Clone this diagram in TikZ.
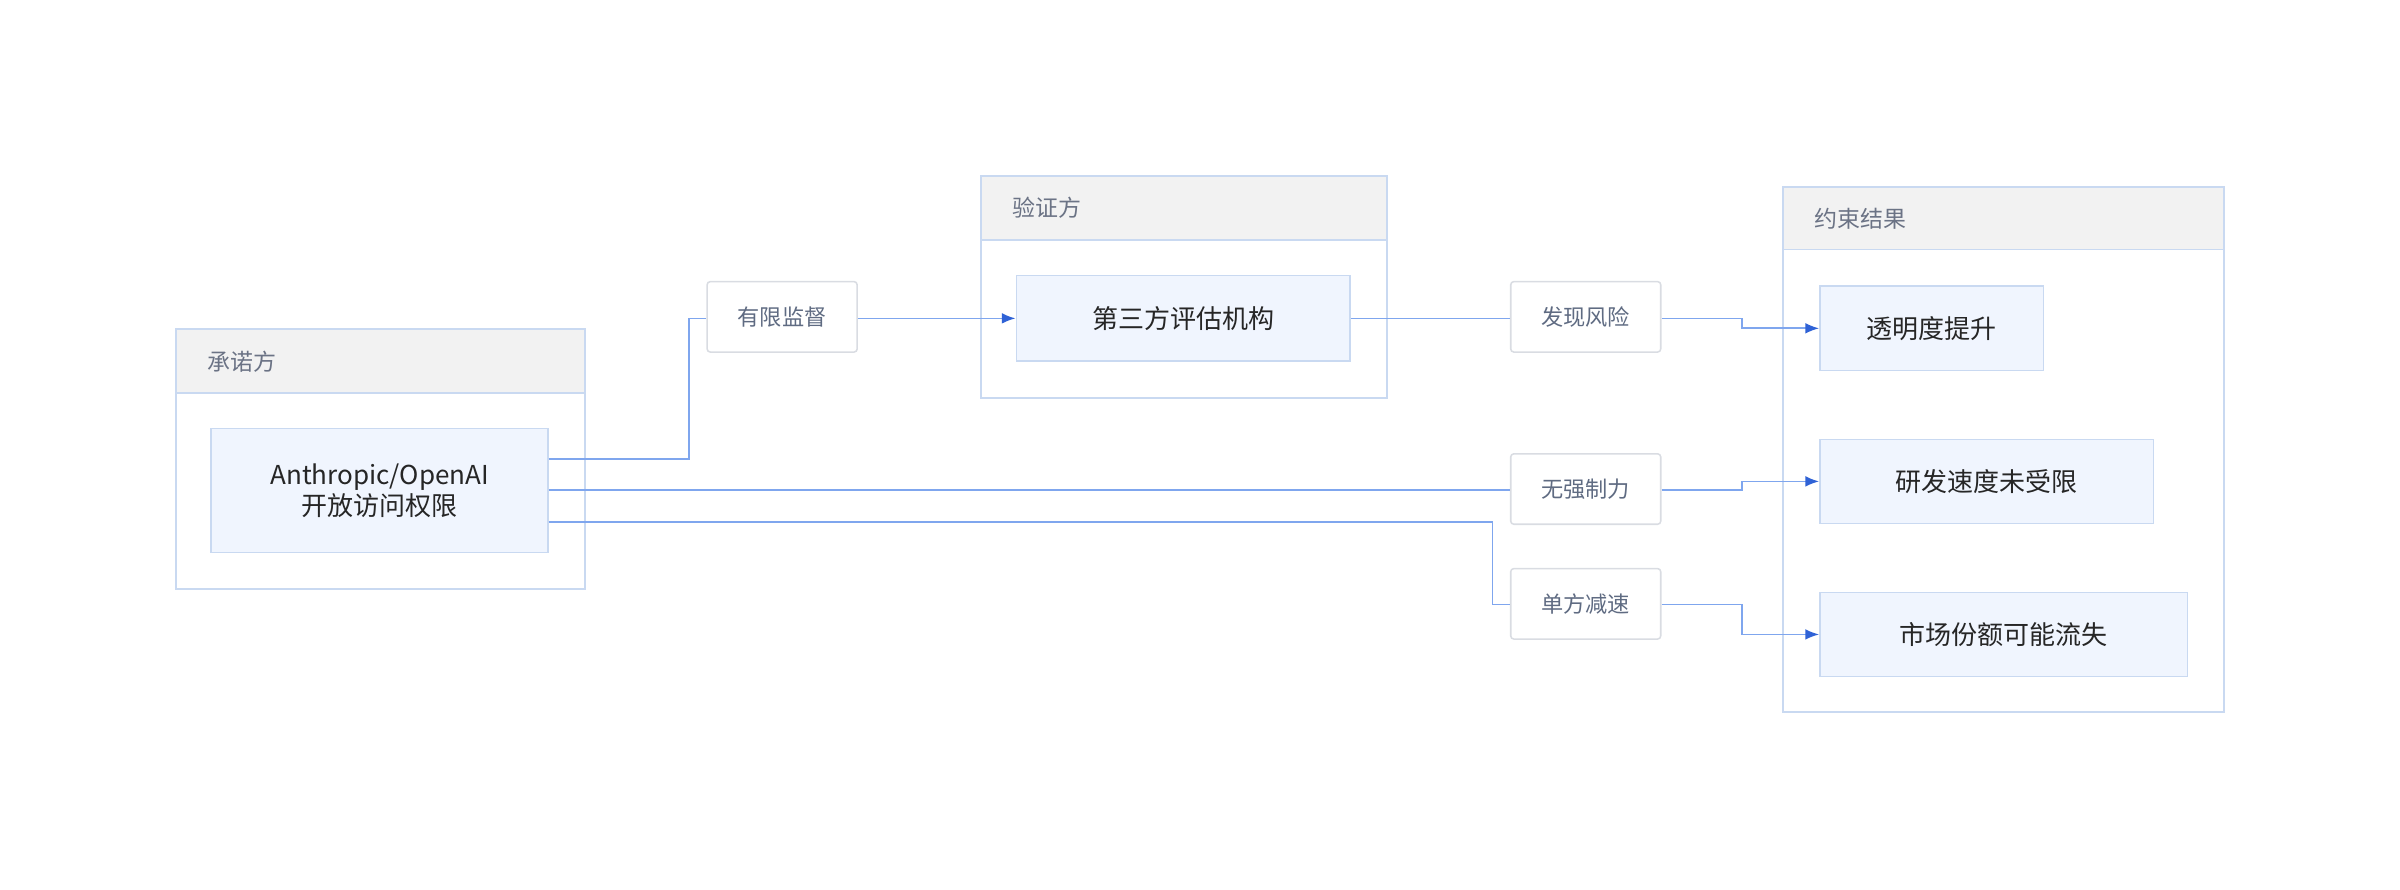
\documentclass[tikz,border=0pt]{standalone}
\usepackage{fontspec}
\setmainfont{Noto Sans CJK SC}
\usetikzlibrary{arrows.meta}
\definecolor{edge}{HTML}{7FA6EE}
\definecolor{tip}{HTML}{2F62D6}
\definecolor{bord}{HTML}{C9D9F1}
\definecolor{nfill}{HTML}{F0F5FE}
\definecolor{hfill}{HTML}{F2F2F2}
\definecolor{ttext}{HTML}{6B7385}
\definecolor{ltext}{HTML}{5F6B82}
\definecolor{lbord}{HTML}{D9DCE2}
\begin{document}
\begin{tikzpicture}[x=1pt,y=-1pt,
  grp/.style={draw=bord,line width=1.2pt,fill=white},
  hdr/.style={draw=bord,line width=1.2pt,fill=hfill},
  ttl/.style={anchor=west,text=ttext,font=\fontsize{15}{18}\selectfont},
  nd/.style={draw=bord,line width=1pt,fill=nfill,inner sep=0pt,font=\fontsize{17}{22}\selectfont,text=black!85,align=center},
  lb/.style={draw=lbord,line width=1pt,fill=white,rounded corners=2pt,inner sep=0pt,minimum width=98pt,minimum height=46pt,text=ltext,font=\fontsize{14.5}{17}\selectfont},
  ed/.style={draw=edge,line width=1.1pt},
  ar/.style={ed,-{Latex[length=9pt,width=7pt,color=tip]}}]
\useasboundingbox (0,0) rectangle (1568,581);
% groups
\draw[grp] (115,215) rectangle (382,385);
\draw[hdr] (115,215) rectangle (382,257);
\node[ttl] (t1) at (132,236) {承诺方};
\draw[grp] (641,115) rectangle (906,260);
\draw[hdr] (641,115) rectangle (906,157);
\node[ttl] (t2) at (658,136) {验证方};
\draw[grp] (1165,122) rectangle (1453,465);
\draw[hdr] (1165,122) rectangle (1453,163);
\node[ttl] (t3) at (1182,143) {约束结果};
% nodes
\node[nd,minimum width=220pt,minimum height=81pt] (A) at (248,320.5) {Anthropic/OpenAI\\[-2pt]开放访问权限};
\node[nd,minimum width=218pt,minimum height=56pt] (V) at (773,208) {第三方评估机构};
\node[nd,minimum width=146pt,minimum height=55pt] (R1) at (1262,214.5) {透明度提升};
\node[nd,minimum width=218pt,minimum height=55pt] (R2) at (1298,314.5) {研发速度未受限};
\node[nd,minimum width=240pt,minimum height=55pt] (R3) at (1309,414.5) {市场份额可能流失};
% labels
\node[lb] (L1) at (511,207) {有限监督};
\node[lb] (L2) at (1036,207) {发现风险};
\node[lb] (L3) at (1036,319.5) {无强制力};
\node[lb] (L4) at (1036,394.5) {单方减速};
% edges
\draw[ed] (A.east|-0,300) -- (450,300) -- (450,208) -- (L1.west|-0,208);
\draw[ar] (L1.east|-0,208) -- (V.west);
\draw[ed] (V.east) -- (L2.west|-0,208);
\draw[ar] (L2.east|-0,208) -- (1138,208) -- (1138,214.5) -- (R1.west);
\draw[ed] (A.east|-0,320) -- (L3.west|-0,320);
\draw[ar] (L3.east|-0,320) -- (1138,320) -- (1138,314.5) -- (R2.west);
\draw[ed] (A.east|-0,341) -- (975,341) -- (975,395) -- (L4.west|-0,395);
\draw[ar] (L4.east|-0,395) -- (1138,395) -- (1138,414.5) -- (R3.west);
\end{tikzpicture}
\end{document}
